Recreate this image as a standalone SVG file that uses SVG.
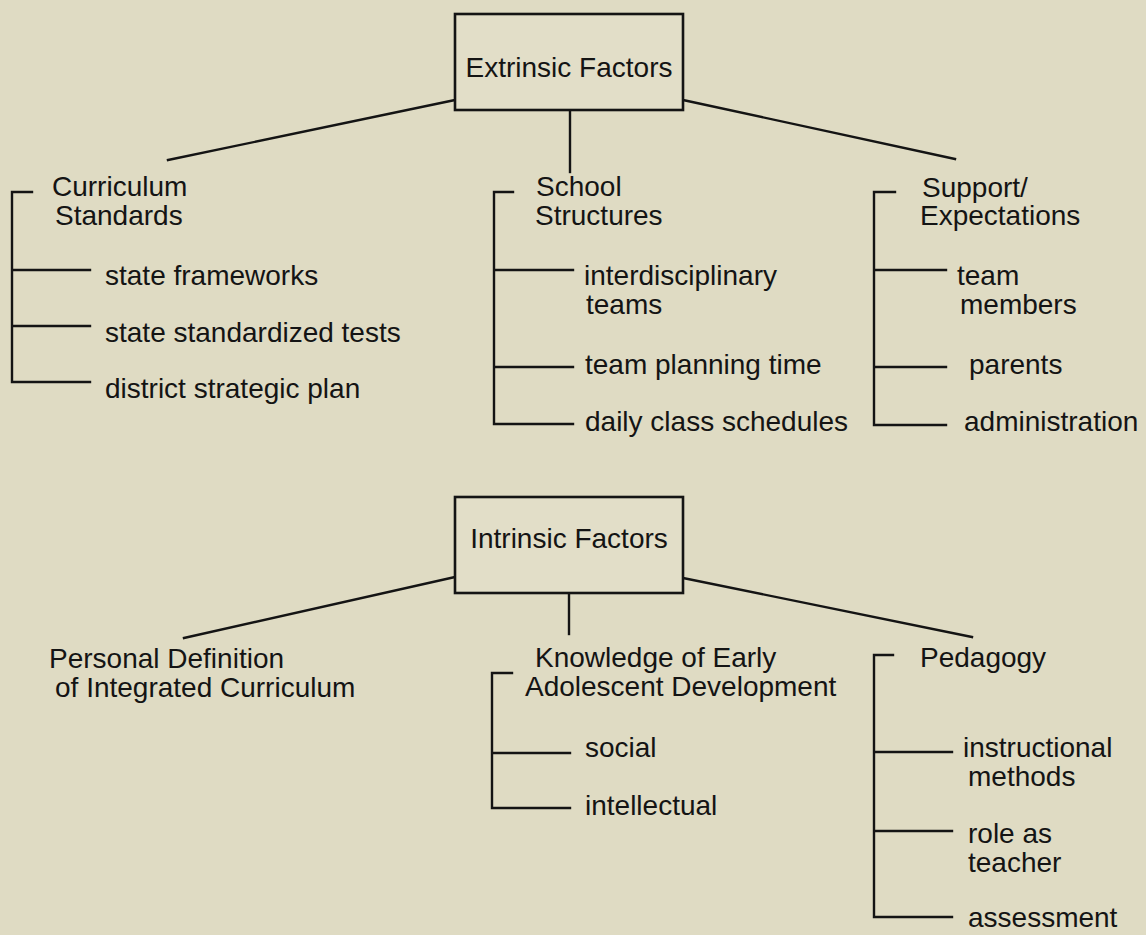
<svg xmlns="http://www.w3.org/2000/svg" width="1146" height="935" viewBox="0 0 1146 935">
<style>
text{font-family:"Liberation Sans",Arial,sans-serif;font-size:28px;fill:#141414}
.ln{stroke:#141414;stroke-width:2.4;fill:none;stroke-linecap:square}
.box{fill:#e2dec8;stroke:#141414;stroke-width:2.6}
</style>
<rect x="0" y="0" width="1146" height="935" fill="#dfdbc3"/>
<g id="connectors">
<path class="ln" d="M455 100 L168 160"/>
<path class="ln" d="M570 110 L570 172"/>
<path class="ln" d="M683 100 L955 159"/>
<path class="ln" d="M455 577 L184 638"/>
<path class="ln" d="M569 593 L569 634"/>
<path class="ln" d="M683 578 L972 637"/>
</g>
<g id="extrinsic">
<rect class="box" x="455" y="14" width="228" height="96"/>
<text x="569" y="77" text-anchor="middle">Extrinsic Factors</text>
</g>
<g id="curriculum">
<path class="ln" d="M32 192 H12 V382 H90 M12 270 H90 M12 326 H90"/>
<text x="52" y="196">Curriculum</text>
<text x="55" y="225">Standards</text>
<text x="105" y="285">state frameworks</text>
<text x="105" y="342">state standardized tests</text>
<text x="105" y="398">district strategic plan</text>
</g>
<g id="school">
<path class="ln" d="M513 192 H494 V424 H573 M494 270 H573 M494 367 H573"/>
<text x="536" y="196">School</text>
<text x="535" y="225">Structures</text>
<text x="584" y="285">interdisciplinary</text>
<text x="586" y="314">teams</text>
<text x="585" y="374">team planning time</text>
<text x="585" y="431">daily class schedules</text>
</g>
<g id="support">
<path class="ln" d="M895 192 H874 V425 H946 M874 270 H946 M874 367 H946"/>
<text x="922" y="197">Support/</text>
<text x="920" y="225">Expectations</text>
<text x="957" y="285">team</text>
<text x="960" y="314">members</text>
<text x="969" y="374">parents</text>
<text x="964" y="431">administration</text>
</g>
<g id="intrinsic">
<rect class="box" x="455" y="497" width="228" height="96"/>
<text x="569" y="548" text-anchor="middle">Intrinsic Factors</text>
</g>
<g id="personal">
<text x="49" y="668">Personal Definition</text>
<text x="55" y="697">of Integrated Curriculum</text>
</g>
<g id="knowledge">
<path class="ln" d="M512 673 H492 V808 H570 M492 753 H570"/>
<text x="535" y="667">Knowledge of Early</text>
<text x="525" y="696">Adolescent Development</text>
<text x="585" y="757">social</text>
<text x="585" y="815">intellectual</text>
</g>
<g id="pedagogy">
<path class="ln" d="M893 655 H874 V917 H952 M874 752 H952 M874 831 H952"/>
<text x="920" y="667">Pedagogy</text>
<text x="963" y="757">instructional</text>
<text x="968" y="786">methods</text>
<text x="968" y="843">role as</text>
<text x="968" y="872">teacher</text>
<text x="968" y="927">assessment</text>
</g>
</svg>
